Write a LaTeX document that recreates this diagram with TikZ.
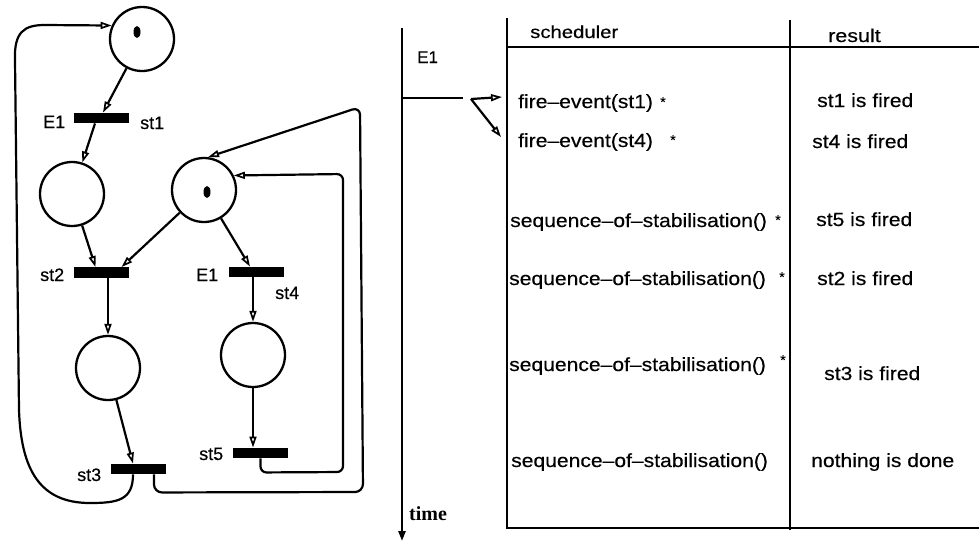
\documentclass[tikz,border=0pt]{standalone}
\usepackage{fontspec}
\setmainfont{Liberation Sans}
\newfontfamily\cellfont[FakeStretch=1.11,FakeBold=0.4]{Liberation Sans}
\newfontfamily\headfont[FakeStretch=1.16,FakeBold=0.4]{Liberation Sans}
\newfontfamily\netfont[FakeBold=0.4]{Liberation Sans}
\newfontfamily\serifbf{Liberation Serif}
\usetikzlibrary{arrows.meta,calc,shapes.geometric}

\begin{document}
\begin{tikzpicture}[x=1pt,y=-1pt,
  place/.style={circle,draw,line width=2.3pt,minimum size=64pt,inner sep=0pt},
  trans/.style={rectangle,fill=black,minimum width=55pt,minimum height=10.5pt,inner sep=0pt},
  token/.style={ellipse,fill=black,minimum width=7pt,minimum height=12pt,inner sep=0pt},
  arc/.style={-{Triangle[open,length=11pt,width=7pt,line width=1.7pt]},line width=2.2pt},
  netlbl/.style={font=\netfont\fontsize{18}{20}\selectfont,inner sep=0pt,anchor=base west},
  cell/.style={font=\cellfont\fontsize{19}{22}\selectfont,inner sep=0pt,anchor=base west},
  head/.style={font=\headfont\fontsize{17.5}{20}\selectfont,inner sep=0pt,anchor=base west},
  starmark/.style={font=\netfont\fontsize{14}{15}\selectfont,inner sep=0pt},
  rule/.style={line width=2.4pt}]

\useasboundingbox (0,0) rectangle (979,542);

% ---------------- Petri net ----------------
\node[place] (P1) at (142,39) {};
\node[place] (P2) at (72,194) {};
\node[place] (P3) at (204,190) {};
\node[place] (P4) at (108,368) {};
\node[place] (P5) at (253,355) {};
\node[token] (tk1) at (137,32) {};
\node[token] (tk3) at (207,192) {};

\node[trans] (st1) at (101.5,118) {};
\node[trans] (st2) at (101.5,272.5) {};
\node[trans] (st4) at (256,272) {};
\node[trans] (st5) at (260.5,453) {};
\node[trans] (st3) at (138,469) {};

\node[netlbl] (lE1a) at (43,128) {E1};
\node[netlbl] (lst1) at (140,129) {st1};
\node[netlbl] (lst2) at (40,281) {st2};
\node[netlbl] (lE1b) at (196,281) {E1};
\node[netlbl] (lst4) at (275,299) {st4};
\node[netlbl] (lst5) at (199,460) {st5};
\node[netlbl] (lst3) at (77,481) {st3};

\draw[arc] (P1) -- ([xshift=1.5pt]st1.north);
\draw[arc] ([xshift=-6.5pt]st1.south) -- (P2);
\draw[arc] (P2) -- ([xshift=-6pt]st2.north);
\draw[arc] (P3) -- ([xshift=20pt]st2.north);
\draw[arc] (P3) -- ([xshift=-6pt]st4.north);
\draw[arc] ([xshift=6.5pt]st2.south) -- (P4.north);
\draw[arc] ([xshift=-3pt]st4.south) -- (P5.north);
\draw[arc] (P5.south) -- (P5.south |- st5.north);
\draw[arc] (P4) -- ([xshift=-5pt]st3.north);

% feedback arcs
\draw[arc] ([xshift=-5pt]st3.south) .. controls (133,500) and (118,503) .. (90,503)
  .. controls (40,503) and (21,470) .. (19,410) -- (15,60)
  .. controls (14,32) and (24,25) .. (45,25) -- (P1.156);
\draw[arc,rounded corners=8pt] ([xshift=16pt]st3.south) -- ++(0,18) -- (363,492)
  -- (360,107) -- (P3.83);
\draw[arc,rounded corners=6pt] (st5.south) -- ++(0,14) -- (343,472)
  -- (343,174) -- (P3.26);

% ---------------- time line ----------------
\coordinate (tA) at (402,28);
\coordinate (tB) at (402,541);
\draw[rule,-{Triangle[length=10pt,width=7pt]}] (tA) -- (tB);
\node[font=\netfont\fontsize{17}{19}\selectfont,inner sep=0pt,anchor=base west] (lE1t) at (417,63) {E1};
\node[font=\serifbf\bfseries\fontsize{20}{22}\selectfont,inner sep=0pt,anchor=base west] (ltime) at (409,520) {time};

\coordinate (e1a) at (402,98);
\coordinate (e1b) at (463,98);
\draw[rule] (e1a) -- (e1b);
\coordinate (fk) at (471,99);
\coordinate (fk1) at (502,97);
\coordinate (fk2) at (501,137);
\draw[arc] (fk) -- (fk1);
\draw[arc] (fk) -- (fk2);

% ---------------- table ----------------
\coordinate (tl) at (507,18);
\coordinate (bl) at (507,528);
\coordinate (hl) at (507,47);
\coordinate (hr) at (979,47);
\coordinate (mt) at (790,20);
\coordinate (mb) at (790,530);
\coordinate (br) at (979,528);
\draw[rule] (tl) -- (bl) -- (br);
\draw[rule] (hl) -- (hr);
\draw[rule] (mt) -- (mb);

\node[head] (hsched) at (530,38) {scheduler};
\node[head,font=\headfont\fontsize{18.5}{20}\selectfont] (hres) at (828,42) {result};

\node[cell] (c1) at (518,108) {fire–event(st1)};
\node[cell] (c2) at (518,147) {fire–event(st4)};
\node[cell] (c3) at (510,227) {sequence–of–stabilisation()};
\node[cell] (c4) at (509,285) {sequence–of–stabilisation()};
\node[cell] (c5) at (509,371) {sequence–of–stabilisation()};
\node[cell] (c6) at (511,467) {sequence–of–stabilisation()};

\node[starmark] (s1) at (663,102) {*};
\node[starmark] (s2) at (673,140) {*};
\node[starmark] (s3) at (778,220) {*};
\node[starmark] (s4) at (782,277) {*};
\node[starmark] (s5) at (783,360) {*};

\node[cell] (r1) at (817,107) {st1 is fired};
\node[cell] (r2) at (812,148) {st4 is fired};
\node[cell] (r3) at (816,226) {st5 is fired};
\node[cell] (r4) at (817,285) {st2 is fired};
\node[cell] (r5) at (824,380) {st3 is fired};
\node[cell] (r6) at (811,467) {nothing is done};

\end{tikzpicture}
\end{document}
